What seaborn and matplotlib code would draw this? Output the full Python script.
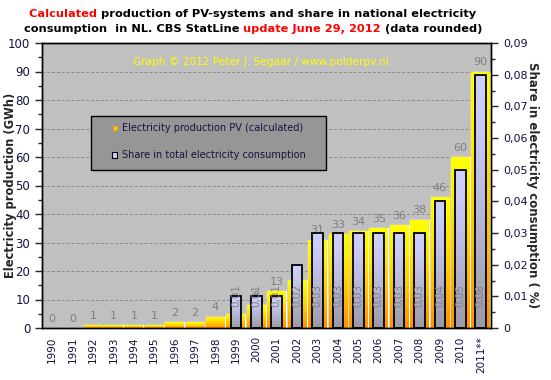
import numpy as np
import pandas as pd
import matplotlib
matplotlib.use("Agg")
import matplotlib.pyplot as plt
import seaborn as sns
from matplotlib.colors import to_rgb
from matplotlib.patches import Rectangle


years = ["1990", "1991", "1992", "1993", "1994", "1995", "1996", "1997", "1998", "1999",
         "2000", "2001", "2002", "2003", "2004", "2005", "2006", "2007", "2008", "2009",
         "2010", "2011**"]
production = [0, 0, 1, 1, 1, 1, 2, 2, 4, 5, 8, 13, 17, 31, 33, 34, 35, 36, 38, 46, 60, 90]
share = [0, 0, 0, 0, 0, 0, 0, 0, 0, 0.01, 0.01, 0.01, 0.02, 0.03, 0.03, 0.03, 0.03, 0.03,
         0.03, 0.04, 0.05, 0.08]
share_labels = ["", "", "", "", "", "", "", "", "", "0,01", "0,01", "0,01", "0,02", "0,03",
                "0,03", "0,03", "0,03", "0,03", "0,03", "0,04", "0,05", "0,08"]

df = pd.DataFrame({"Year": years, "Production": production, "Share": share})

sns.set_style("white")
plt.rcParams["font.family"] = ["DejaVu Sans"]

navy = "#101040"
fig = plt.figure(figsize=(5.51, 3.80), dpi=100)
fig.patch.set_facecolor("white")
ax = fig.add_axes([42 / 551, 1 - 328 / 380, 449 / 551, 285 / 380])
ax.set_facecolor("#c0c0c0")

sns.barplot(data=df, x="Year", y="Production", ax=ax, width=0.92, color="yellow",
            saturation=1, zorder=2)
ax2 = ax.twinx()
sns.barplot(data=df, x="Year", y="Share", ax=ax2, width=0.52, color="#ccccff",
            saturation=1, zorder=2)


def gradient_fill(axis, patches, top, bottom, edge=None):
    t = np.array(to_rgb(top))
    b = np.array(to_rgb(bottom))
    f = np.linspace(0, 1, 64)[:, None] ** 1.3
    img = (t * (1 - f) + b * f)[:, None, :]
    for p in patches:
        h = p.get_height()
        if h <= 0:
            p.set_visible(False)
            continue
        x0 = p.get_x()
        w = p.get_width()
        im = axis.imshow(img, extent=[x0, x0 + w, 0, h], aspect="auto",
                         origin="upper", zorder=2, interpolation="bilinear")
        im.set_clip_path(p)
        p.set_facecolor("none")
        if edge:
            p.set_edgecolor(edge)
            p.set_linewidth(1.3)
            p.set_zorder(3)


gradient_fill(ax, list(ax.patches), "#ffff00", "#ff9000")
gradient_fill(ax2, list(ax2.patches), "#d0d0ff", "#9a9aa6", edge="black")

ax.set_xlim(-0.5, len(years) - 0.5)
ax.set_ylim(0, 100)
ax2.set_ylim(0, 0.09)

# axes, ticks
ax.set_yticks(np.arange(0, 101, 10))
ax.set_yticks(np.arange(0, 101, 5), minor=True)
ax2.set_yticks(np.arange(0, 0.091, 0.01))
ax2.set_yticks(np.arange(0, 0.091, 0.005), minor=True)
ax2.set_yticklabels(["0"] + [f"0,0{i}" for i in range(1, 10)])
ax.set_xticks(range(len(years)))
ax.set_xticklabels(years, rotation=90)
ax.set_xticks(np.arange(-0.5, len(years), 1), minor=True)
ax.tick_params(axis="x", which="major", length=0, pad=6, labelsize=7.5, labelcolor=navy)
ax.tick_params(axis="x", which="minor", length=5, width=1, color="black", direction="out")
ax.tick_params(axis="y", which="major", length=5, width=1, labelsize=8.5,
               labelcolor=navy, left=True, direction="out")
ax.tick_params(axis="y", which="minor", length=3, width=1, left=True, direction="out")
ax2.tick_params(axis="y", which="major", length=5, width=1, labelsize=8,
                labelcolor=navy, right=True, direction="out")
ax2.tick_params(axis="y", which="minor", length=3, width=1, right=True, direction="out")

ax.yaxis.grid(True, linestyle=(0, (3, 2)), color="#8a8a8a", linewidth=0.7)
ax.set_axisbelow(True)
for a in (ax, ax2):
    for s in a.spines.values():
        s.set_visible(True)
        s.set_color("black")
        s.set_linewidth(1)

ax.set_xlabel("")
ax.set_ylabel("Electricity production (GWh)", fontsize=8.3, fontweight="bold", va="center")
ax.yaxis.set_label_coords(-0.071, 0.5)
ax2.set_ylabel("Share in electricity consumption ( %)", fontsize=8.5, fontweight="bold",
               rotation=270, va="center")
ax2.yaxis.set_label_coords(1.093, 0.5)

# value labels (production labels sit under the share bars)
for i, v in enumerate(production):
    ax.text(i, v + 1.5, str(v), ha="center", va="bottom", fontsize=8, color="#808080",
            zorder=5)
for i, lab in enumerate(share_labels):
    if lab:
        ax2.text(i, 0.0065, lab, ha="center", va="bottom", rotation=90, fontsize=7.5,
                 color="#808080", zorder=5)

ax2.text(0.488, 0.935, "Graph \u00a9 2012 Peter J. Segaar / www.polderpv.nl",
         transform=ax2.transAxes, ha="center", va="center", fontsize=7.6, color="#ffff00")

# legend box
ax2.add_patch(Rectangle((0.109, 0.554), 0.524, 0.19, transform=ax2.transAxes,
                        facecolor="#969696", edgecolor="black", linewidth=1, zorder=6))
ax2.add_patch(Rectangle((0.158, 0.694), 0.009, 0.014, transform=ax2.transAxes,
                        facecolor="#ffcc00", edgecolor="#ff9900", linewidth=0.5, zorder=7))
ax2.add_patch(Rectangle((0.156, 0.596), 0.012, 0.021, transform=ax2.transAxes,
                        facecolor="#ccccff", edgecolor="black", linewidth=0.8, zorder=7))
ax2.text(0.178, 0.701, "Electricity production PV (calculated)", transform=ax2.transAxes,
         ha="left", va="center", fontsize=7, color="#1a1040", zorder=8)
ax2.text(0.178, 0.606, "Share in total electricity consumption", transform=ax2.transAxes,
         ha="left", va="center", fontsize=7, color="#1a1040", zorder=8)


# title, built from coloured pieces
def colored_line(y, parts, center_px, size):
    renderer = fig.canvas.get_renderer()
    texts = [fig.text(0, y, s, color=c, fontsize=size, fontweight="bold", va="center")
             for s, c in parts]
    widths = [t.get_window_extent(renderer).width for t in texts]
    x = center_px - sum(widths) / 2
    for t, w in zip(texts, widths):
        t.set_x(x / fig.bbox.width)
        x += w


colored_line(1 - 14 / 380, [("Calculated ", "red"),
                            ("production of PV-systems and share in national electricity", "black")],
             253, 8.2)
colored_line(1 - 29 / 380, [("consumption  in NL. CBS StatLine ", "black"),
                            ("update June 29, 2012 ", "red"),
                            ("(data rounded)", "black")],
             253, 8.2)

fig.savefig("out.png", dpi=100, facecolor="white")
